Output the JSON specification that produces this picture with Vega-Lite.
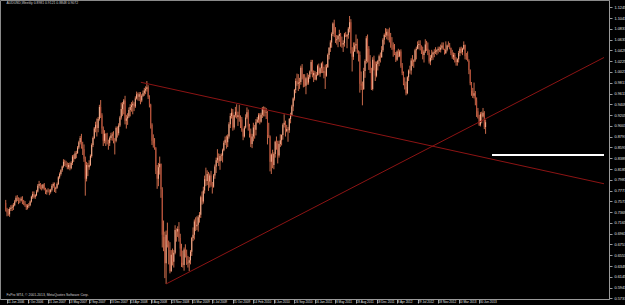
{
  "$schema": "https://vega.github.io/schema/vega-lite/v6.json",
  "width": 609,
  "height": 299,
  "autosize": {"type": "none"},
  "padding": {"left": 0, "top": 0, "right": 16, "bottom": 6},
  "background": "#000000",
  "config": {
    "view": {"stroke": "#8a8a8a", "strokeWidth": 1},
    "axis": {"labelFont": "Liberation Sans", "labelFontSize": 3.8, "labelColor": "#e0e0e0", "domainColor": "#9a9a9a", "tickColor": "#9a9a9a", "grid": false, "title": null, "labelOverlap": false}
  },
  "data": {
    "format": {"type": "csv", "parse": {"d": "date", "o": "number", "h": "number", "l": "number", "c": "number"}},
    "values": "d,o,h,l,c\n2006-06-04,.754,.760,.738,.742\n2006-06-11,.742,.745,.729,.736\n2006-06-18,.736,.743,.730,.733\n2006-06-25,.733,.746,.728,.743\n2006-07-02,.743,.750,.739,.745\n2006-07-09,.745,.751,.739,.747\n2006-07-16,.747,.754,.741,.750\n2006-07-23,.750,.760,.748,.757\n2006-07-30,.757,.768,.755,.764\n2006-08-06,.764,.769,.758,.762\n2006-08-13,.762,.765,.752,.760\n2006-08-20,.760,.764,.754,.759\n2006-08-27,.759,.766,.757,.762\n2006-09-03,.762,.767,.752,.756\n2006-09-10,.756,.760,.750,.753\n2006-09-17,.753,.758,.747,.751\n2006-09-24,.751,.752,.741,.746\n2006-10-01,.746,.752,.742,.749\n2006-10-08,.749,.754,.745,.750\n2006-10-15,.750,.759,.748,.757\n2006-10-22,.757,.768,.755,.766\n2006-10-29,.766,.776,.762,.771\n2006-11-05,.771,.776,.763,.766\n2006-11-12,.766,.771,.762,.769\n2006-11-19,.769,.779,.767,.776\n2006-11-26,.776,.790,.774,.787\n2006-12-03,.787,.796,.782,.790\n2006-12-10,.790,.792,.780,.784\n2006-12-17,.784,.789,.778,.782\n2006-12-24,.782,.790,.780,.789\n2006-12-31,.789,.792,.778,.780\n2007-01-07,.780,.783,.771,.776\n2007-01-14,.776,.780,.770,.778\n2007-01-21,.778,.782,.774,.778\n2007-01-28,.778,.780,.769,.775\n2007-02-04,.775,.781,.772,.779\n2007-02-11,.779,.790,.776,.787\n2007-02-18,.787,.793,.783,.790\n2007-02-25,.790,.793,.775,.781\n2007-03-04,.781,.785,.773,.783\n2007-03-11,.783,.793,.781,.790\n2007-03-18,.790,.805,.788,.803\n2007-03-25,.803,.812,.800,.809\n2007-04-01,.809,.818,.806,.816\n2007-04-08,.816,.825,.813,.823\n2007-04-15,.823,.837,.821,.832\n2007-04-22,.832,.836,.824,.828\n2007-04-29,.828,.834,.822,.826\n2007-05-06,.826,.831,.818,.822\n2007-05-13,.822,.830,.818,.826\n2007-05-20,.826,.831,.816,.820\n2007-05-27,.820,.833,.818,.830\n2007-06-03,.830,.845,.826,.842\n2007-06-10,.842,.846,.832,.838\n2007-06-17,.838,.852,.837,.848\n2007-06-24,.848,.853,.839,.849\n2007-07-01,.849,.862,.847,.859\n2007-07-08,.859,.872,.856,.869\n2007-07-15,.869,.881,.865,.877\n2007-07-22,.877,.885,.857,.860\n2007-07-29,.860,.870,.845,.856\n2007-08-05,.856,.865,.832,.838\n2007-08-12,.838,.842,.768,.800\n2007-08-19,.800,.832,.795,.826\n2007-08-26,.826,.830,.805,.822\n2007-09-02,.822,.835,.817,.826\n2007-09-09,.826,.846,.824,.843\n2007-09-16,.843,.867,.840,.864\n2007-09-23,.864,.880,.860,.877\n2007-09-30,.877,.898,.875,.895\n2007-10-07,.895,.908,.888,.902\n2007-10-14,.902,.914,.880,.896\n2007-10-21,.896,.917,.888,.913\n2007-10-28,.913,.940,.910,.936\n2007-11-04,.936,.949,.915,.920\n2007-11-11,.920,.924,.885,.895\n2007-11-18,.895,.899,.862,.872\n2007-11-25,.872,.892,.867,.885\n2007-12-02,.885,.886,.862,.870\n2007-12-09,.870,.887,.865,.870\n2007-12-16,.870,.874,.855,.867\n2007-12-23,.867,.880,.862,.877\n2007-12-30,.877,.887,.873,.882\n2008-01-06,.882,.888,.872,.884\n2008-01-13,.884,.890,.867,.872\n2008-01-20,.872,.877,.846,.872\n2008-01-27,.872,.899,.869,.896\n2008-02-03,.896,.899,.878,.886\n2008-02-10,.886,.905,.882,.901\n2008-02-17,.901,.919,.898,.916\n2008-02-24,.916,.944,.912,.932\n2008-03-02,.932,.945,.919,.941\n2008-03-09,.941,.951,.922,.948\n2008-03-16,.948,.957,.903,.910\n2008-03-23,.910,.921,.895,.914\n2008-03-30,.914,.924,.902,.918\n2008-04-06,.918,.935,.915,.930\n2008-04-13,.930,.941,.918,.936\n2008-04-20,.936,.945,.927,.939\n2008-04-27,.939,.948,.922,.942\n2008-05-04,.942,.945,.928,.937\n2008-05-11,.937,.956,.934,.952\n2008-05-18,.952,.965,.950,.960\n2008-05-25,.960,.963,.948,.955\n2008-06-01,.955,.964,.947,.960\n2008-06-08,.960,.964,.941,.948\n2008-06-15,.948,.960,.945,.957\n2008-06-22,.957,.967,.955,.962\n2008-06-29,.962,.972,.957,.967\n2008-07-06,.967,.975,.960,.970\n2008-07-13,.970,.985,.965,.973\n2008-07-20,.973,.977,.951,.955\n2008-07-27,.955,.958,.935,.940\n2008-08-03,.940,.942,.895,.902\n2008-08-10,.902,.905,.864,.872\n2008-08-17,.872,.884,.859,.867\n2008-08-24,.867,.877,.855,.858\n2008-08-31,.858,.860,.809,.815\n2008-09-07,.815,.826,.781,.800\n2008-09-14,.800,.830,.786,.822\n2008-09-21,.822,.842,.808,.828\n2008-09-28,.828,.829,.764,.780\n2008-10-05,.780,.784,.670,.694\n2008-10-12,.694,.721,.663,.690\n2008-10-19,.690,.700,.612,.640\n2008-10-26,.640,.702,.601,.694\n2008-11-02,.694,.717,.670,.675\n2008-11-09,.675,.683,.638,.665\n2008-11-16,.665,.680,.621,.625\n2008-11-23,.625,.665,.624,.656\n2008-11-30,.656,.668,.636,.643\n2008-12-07,.643,.665,.632,.660\n2008-12-14,.660,.712,.657,.703\n2008-12-21,.703,.706,.681,.700\n2008-12-28,.700,.710,.690,.705\n2009-01-04,.705,.718,.681,.688\n2009-01-11,.688,.696,.653,.668\n2009-01-18,.668,.677,.633,.641\n2009-01-25,.641,.664,.632,.637\n2009-02-01,.637,.670,.626,.666\n2009-02-08,.666,.676,.651,.657\n2009-02-15,.657,.666,.637,.640\n2009-02-22,.640,.654,.632,.641\n2009-03-01,.641,.652,.625,.646\n2009-03-08,.646,.665,.638,.662\n2009-03-15,.662,.690,.654,.688\n2009-03-22,.688,.708,.682,.694\n2009-03-29,.694,.723,.685,.719\n2009-04-05,.719,.727,.701,.710\n2009-04-12,.710,.729,.703,.713\n2009-04-19,.713,.731,.700,.727\n2009-04-26,.727,.737,.717,.732\n2009-05-03,.732,.768,.726,.765\n2009-05-10,.765,.776,.751,.757\n2009-05-17,.757,.785,.753,.778\n2009-05-24,.778,.806,.772,.799\n2009-05-31,.799,.821,.786,.796\n2009-06-07,.796,.816,.788,.809\n2009-06-14,.809,.813,.777,.795\n2009-06-21,.795,.810,.783,.806\n2009-06-28,.806,.815,.785,.788\n2009-07-05,.788,.794,.772,.785\n2009-07-12,.785,.809,.783,.806\n2009-07-19,.806,.827,.800,.823\n2009-07-26,.823,.840,.811,.835\n2009-08-02,.835,.856,.830,.840\n2009-08-09,.840,.848,.824,.833\n2009-08-16,.833,.847,.817,.843\n2009-08-23,.843,.848,.834,.844\n2009-08-30,.844,.857,.831,.854\n2009-09-06,.854,.872,.852,.868\n2009-09-13,.868,.880,.864,.874\n2009-09-20,.874,.882,.857,.869\n2009-09-27,.869,.884,.860,.880\n2009-10-04,.880,.907,.876,.903\n2009-10-11,.903,.924,.896,.919\n2009-10-18,.919,.933,.914,.925\n2009-10-25,.925,.932,.891,.897\n2009-11-01,.897,.921,.893,.920\n2009-11-08,.920,.936,.916,.927\n2009-11-15,.927,.941,.914,.917\n2009-11-22,.917,.927,.900,.920\n2009-11-29,.920,.940,.908,.914\n2009-12-06,.914,.920,.896,.912\n2009-12-13,.912,.917,.889,.892\n2009-12-20,.892,.895,.873,.880\n2009-12-27,.880,.900,.878,.897\n2010-01-03,.897,.922,.895,.916\n2010-01-10,.916,.935,.913,.926\n2010-01-17,.926,.931,.891,.899\n2010-01-24,.899,.904,.878,.885\n2010-01-31,.885,.895,.860,.866\n2010-02-07,.866,.885,.858,.880\n2010-02-14,.880,.906,.871,.897\n2010-02-21,.897,.902,.876,.893\n2010-02-28,.893,.913,.882,.907\n2010-03-07,.907,.917,.905,.912\n2010-03-14,.912,.924,.906,.920\n2010-03-21,.920,.924,.903,.908\n2010-03-28,.908,.925,.906,.921\n2010-04-04,.921,.936,.915,.933\n2010-04-11,.933,.937,.918,.932\n2010-04-18,.932,.936,.918,.925\n2010-04-25,.925,.934,.913,.926\n2010-05-02,.926,.928,.865,.883\n2010-05-09,.883,.906,.877,.880\n2010-05-16,.880,.882,.814,.832\n2010-05-23,.832,.848,.809,.846\n2010-05-30,.846,.855,.820,.826\n2010-06-06,.826,.850,.818,.847\n2010-06-13,.847,.872,.840,.870\n2010-06-20,.870,.880,.855,.867\n2010-06-27,.867,.872,.829,.844\n2010-07-04,.844,.872,.840,.866\n2010-07-11,.866,.884,.860,.873\n2010-07-18,.873,.884,.863,.883\n2010-07-25,.883,.905,.874,.902\n2010-08-01,.902,.922,.897,.906\n2010-08-08,.906,.910,.880,.890\n2010-08-15,.890,.902,.888,.894\n2010-08-22,.894,.898,.870,.892\n2010-08-29,.892,.915,.887,.913\n2010-09-05,.913,.925,.905,.920\n2010-09-12,.920,.940,.918,.937\n2010-09-19,.937,.954,.928,.952\n2010-09-26,.952,.970,.948,.968\n2010-10-03,.968,.990,.962,.985\n2010-10-10,.985,.999,.976,.980\n2010-10-17,.980,.998,.966,.982\n2010-10-24,.982,.991,.970,.983\n2010-10-31,.983,1.014,.978,1.010\n2010-11-07,1.010,1.017,.988,.991\n2010-11-14,.991,.998,.973,.983\n2010-11-21,.983,.998,.974,.976\n2010-11-28,.976,.993,.960,.990\n2010-12-05,.990,1.000,.978,.982\n2010-12-12,.982,.997,.978,.992\n2010-12-19,.992,1.005,.989,1.003\n2010-12-26,1.003,1.025,.998,1.021\n2011-01-02,1.021,1.025,.992,.996\n2011-01-09,.996,1.005,.983,1.000\n2011-01-16,1.000,1.004,.987,.988\n2011-01-23,.988,1.002,.986,.997\n2011-01-30,.997,1.016,.995,1.013\n2011-02-06,1.013,1.018,.996,.999\n2011-02-13,.999,1.011,.993,1.009\n2011-02-20,1.009,1.020,1.000,1.018\n2011-02-27,1.018,1.022,1.000,1.001\n2011-03-06,1.001,1.012,.990,1.003\n2011-03-13,1.003,1.016,.970,.995\n2011-03-20,.995,1.017,.993,1.011\n2011-03-27,1.011,1.037,1.010,1.034\n2011-04-03,1.034,1.049,1.026,1.048\n2011-04-10,1.048,1.062,1.040,1.058\n2011-04-17,1.058,1.077,1.048,1.074\n2011-04-24,1.074,1.096,1.070,1.094\n2011-05-01,1.094,1.101,1.068,1.077\n2011-05-08,1.077,1.087,1.057,1.062\n2011-05-15,1.062,1.072,1.054,1.064\n2011-05-22,1.064,1.072,1.049,1.070\n2011-05-29,1.070,1.082,1.059,1.074\n2011-06-05,1.074,1.076,1.050,1.056\n2011-06-12,1.056,1.069,1.048,1.054\n2011-06-19,1.054,1.062,1.040,1.057\n2011-06-26,1.057,1.076,1.050,1.073\n2011-07-03,1.073,1.078,1.068,1.069\n2011-07-10,1.069,1.074,1.047,1.072\n2011-07-17,1.072,1.087,1.065,1.084\n2011-07-24,1.084,1.108,1.077,1.096\n2011-07-31,1.096,1.102,1.037,1.044\n2011-08-07,1.044,1.049,1.003,1.031\n2011-08-14,1.031,1.058,1.025,1.041\n2011-08-21,1.041,1.058,1.040,1.052\n2011-08-28,1.052,1.073,1.046,1.055\n2011-09-04,1.055,1.065,1.037,1.040\n2011-09-11,1.040,1.043,1.022,1.034\n2011-09-18,1.034,1.041,.963,.980\n2011-09-25,.980,1.003,.968,.976\n2011-10-02,.976,.984,.939,.970\n2011-10-09,.970,1.010,.968,1.004\n2011-10-16,1.004,1.026,.991,1.023\n2011-10-23,1.023,1.070,1.018,1.066\n2011-10-30,1.066,1.073,1.020,1.046\n2011-11-06,1.046,1.051,1.006,1.022\n2011-11-13,1.022,1.034,1.000,1.006\n2011-11-20,1.006,1.010,.968,.970\n2011-11-27,.970,1.030,.967,1.025\n2011-12-04,1.025,1.033,1.005,1.009\n2011-12-11,1.009,1.022,.985,.995\n2011-12-18,.995,1.022,.992,1.017\n2011-12-25,1.017,1.025,1.005,1.023\n2012-01-01,1.023,1.035,1.013,1.032\n2012-01-08,1.032,1.039,1.020,1.030\n2012-01-15,1.030,1.051,1.029,1.043\n2012-01-22,1.043,1.066,1.040,1.063\n2012-01-29,1.063,1.075,1.054,1.072\n2012-02-05,1.072,1.085,1.068,1.071\n2012-02-12,1.071,1.084,1.064,1.078\n2012-02-19,1.078,1.083,1.062,1.070\n2012-02-26,1.070,1.086,1.058,1.068\n2012-03-04,1.068,1.076,1.048,1.053\n2012-03-11,1.053,1.068,1.044,1.053\n2012-03-18,1.053,1.058,1.031,1.045\n2012-03-25,1.045,1.055,1.034,1.036\n2012-04-01,1.036,1.040,1.021,1.025\n2012-04-08,1.025,1.043,1.023,1.041\n2012-04-15,1.041,1.046,1.030,1.032\n2012-04-22,1.032,1.044,1.030,1.041\n2012-04-29,1.041,1.045,1.010,1.014\n2012-05-06,1.014,1.019,.996,1.000\n2012-05-13,1.000,1.003,.977,.980\n2012-05-20,.980,.992,.969,.974\n2012-05-27,.974,.984,.958,.962\n2012-06-03,.962,.994,.960,.992\n2012-06-10,.992,1.007,.985,1.005\n2012-06-17,1.005,1.014,.999,1.005\n2012-06-24,1.005,1.028,.997,1.024\n2012-07-01,1.024,1.034,1.013,1.022\n2012-07-08,1.022,1.026,1.010,1.024\n2012-07-15,1.024,1.046,1.021,1.043\n2012-07-22,1.043,1.050,1.026,1.046\n2012-07-29,1.046,1.060,1.045,1.053\n2012-08-05,1.053,1.062,1.045,1.055\n2012-08-12,1.055,1.062,1.043,1.052\n2012-08-19,1.052,1.052,1.036,1.043\n2012-08-26,1.043,1.050,1.026,1.034\n2012-09-02,1.034,1.044,1.020,1.041\n2012-09-09,1.041,1.064,1.038,1.054\n2012-09-16,1.054,1.061,1.042,1.046\n2012-09-23,1.046,1.058,1.034,1.038\n2012-09-30,1.038,1.044,1.018,1.022\n2012-10-07,1.022,1.034,1.015,1.029\n2012-10-14,1.029,1.044,1.024,1.035\n2012-10-21,1.035,1.041,1.025,1.039\n2012-10-28,1.039,1.045,1.030,1.040\n2012-11-04,1.040,1.049,1.036,1.041\n2012-11-11,1.041,1.045,1.034,1.043\n2012-11-18,1.043,1.050,1.037,1.046\n2012-11-25,1.046,1.050,1.040,1.044\n2012-12-02,1.044,1.054,1.039,1.048\n2012-12-09,1.048,1.058,1.045,1.052\n2012-12-16,1.052,1.058,1.044,1.045\n2012-12-23,1.045,1.046,1.035,1.038\n2012-12-30,1.038,1.060,1.036,1.044\n2013-01-06,1.044,1.054,1.041,1.052\n2013-01-13,1.052,1.060,1.049,1.052\n2013-01-20,1.052,1.057,1.045,1.048\n2013-01-27,1.048,1.048,1.034,1.038\n2013-02-03,1.038,1.044,1.027,1.031\n2013-02-10,1.031,1.039,1.025,1.034\n2013-02-17,1.034,1.038,1.020,1.024\n2013-02-24,1.024,1.030,1.014,1.021\n2013-03-03,1.021,1.028,1.014,1.026\n2013-03-10,1.026,1.042,1.020,1.038\n2013-03-17,1.038,1.049,1.032,1.046\n2013-03-24,1.046,1.050,1.037,1.040\n2013-03-31,1.040,1.048,1.034,1.046\n2013-04-07,1.046,1.060,1.044,1.053\n2013-04-14,1.053,1.054,1.026,1.032\n2013-04-21,1.032,1.038,1.025,1.032\n2013-04-28,1.032,1.041,1.022,1.023\n2013-05-05,1.023,1.026,.998,1.006\n2013-05-12,1.006,1.007,.977,.981\n2013-05-19,.981,.983,.957,.966\n2013-05-26,.966,.972,.953,.957\n2013-06-02,.957,.982,.952,.962\n2013-06-09,.962,.966,.939,.948\n2013-06-16,.948,.954,.917,.928\n2013-06-23,.928,.934,.914,.916\n2013-06-30,.916,.921,.900,.902\n2013-07-07,.902,.926,.899,.922\n2013-07-14,.922,.927,.905,.918\n2013-07-21,.918,.934,.916,.925\n2013-07-28,.925,.928,.894,.898\n2013-08-04,.898,.912,.885,.907"
  },
  "layer": [
    {
      "mark": {"type": "rule", "strokeWidth": 1, "color": "#c86a4a"},
      "encoding": {
        "x": {
          "field": "d", "type": "temporal",
          "scale": {"type": "utc", "domain": [{"year": 2006, "month": 5, "date": 31, "utc": true}, {"year": 2015, "month": 5, "date": 12, "utc": true}]},
          "axis": {
            "orient": "bottom",
            "format": "%-d %b %Y",
            "tickCount": 100,
            "labelFontSize": 3.1,
            "labelOverlap": false,
            "labelAlign": "left", "labelBaseline": "top", "labelDx": 1.5, "labelPadding": -3, "tickSize": 4,
            "labelFlush": false, "labelBound": false,
            "values": [
              {"year": 2006, "month": 6, "date": 11, "utc": true}, {"year": 2006, "month": 10, "date": 1, "utc": true},
              {"year": 2007, "month": 1, "date": 21, "utc": true}, {"year": 2007, "month": 5, "date": 13, "utc": true},
              {"year": 2007, "month": 9, "date": 2, "utc": true}, {"year": 2007, "month": 12, "date": 23, "utc": true},
              {"year": 2008, "month": 4, "date": 13, "utc": true}, {"year": 2008, "month": 8, "date": 3, "utc": true},
              {"year": 2008, "month": 11, "date": 23, "utc": true}, {"year": 2009, "month": 3, "date": 15, "utc": true},
              {"year": 2009, "month": 7, "date": 5, "utc": true}, {"year": 2009, "month": 10, "date": 25, "utc": true},
              {"year": 2010, "month": 2, "date": 14, "utc": true}, {"year": 2010, "month": 6, "date": 6, "utc": true},
              {"year": 2010, "month": 9, "date": 26, "utc": true}, {"year": 2011, "month": 1, "date": 16, "utc": true},
              {"year": 2011, "month": 5, "date": 8, "utc": true}, {"year": 2011, "month": 8, "date": 28, "utc": true},
              {"year": 2011, "month": 12, "date": 18, "utc": true}, {"year": 2012, "month": 4, "date": 8, "utc": true},
              {"year": 2012, "month": 7, "date": 29, "utc": true}, {"year": 2012, "month": 11, "date": 18, "utc": true},
              {"year": 2013, "month": 3, "date": 10, "utc": true}, {"year": 2013, "month": 6, "date": 30, "utc": true}
            ]
          }
        },
        "y": {
          "field": "l", "type": "quantitative",
          "scale": {"domain": [0.5725, 1.1383], "nice": false, "zero": false},
          "axis": {
            "orient": "right", "format": ".5f", "tickSize": 3, "labelPadding": 2, "labelBaseline": "middle",
            "tickCount": 100,
            "labelOverlap": false, "labelFlush": false, "labelBound": false,
            "values": [1.1245, 1.1041, 1.0837, 1.0633, 1.0429, 1.0225, 1.0021, 0.9817, 0.9613, 0.9409, 0.9205, 0.9001, 0.8797, 0.8593, 0.8389, 0.8185, 0.7981, 0.7777, 0.7573, 0.7369, 0.7165, 0.6961, 0.6757, 0.6553, 0.6349, 0.6145, 0.5941, 0.5737]
          }
        },
        "y2": {"field": "h"}
      }
    },
    {
      "mark": {"type": "bar", "width": 1},
      "encoding": {
        "x": {"field": "d", "type": "temporal"},
        "y": {"field": "o", "type": "quantitative"},
        "y2": {"field": "c"},
        "color": {"condition": {"test": "datum.c >= datum.o", "value": "#f4b090"}, "value": "#b8503a"}
      }
    },
    {
      "data": {"values": [
        {"g": "a", "d": "2008-06-10", "p": 0.9826}, {"g": "a", "d": "2015-05-12", "p": 0.7906},
        {"g": "b", "d": "2008-10-26", "p": 0.601}, {"g": "b", "d": "2015-05-12", "p": 1.0295}
      ]},
      "mark": {"type": "line", "strokeWidth": 1, "color": "#8c1414"},
      "encoding": {
        "x": {"field": "d", "type": "temporal"},
        "y": {"field": "p", "type": "quantitative"},
        "detail": {"field": "g"}
      }
    },
    {
      "data": {"values": [{"d": "2013-09-08", "p": 0.845}, {"d": "2015-05-12", "p": 0.845}]},
      "mark": {"type": "line", "strokeWidth": 2, "color": "#ffffff"},
      "encoding": {
        "x": {"field": "d", "type": "temporal"},
        "y": {"field": "p", "type": "quantitative"}
      }
    },
    {
      "data": {"values": [
        {"d": "2006-06-08", "p": 1.1318, "t": "AUDUSD,Weekly  0.8981 0.9121 0.8848 0.9072"},
        {"d": "2006-06-08", "p": 0.5805, "t": "FxPro MT4, © 2001-2013, MetaQuotes Software Corp."}
      ]},
      "mark": {"type": "text", "align": "left", "baseline": "middle", "font": "Liberation Sans", "fontSize": 3.4, "color": "#d0d0d0"},
      "encoding": {
        "x": {"field": "d", "type": "temporal"},
        "y": {"field": "p", "type": "quantitative"},
        "text": {"field": "t"}
      }
    }
  ]
}
